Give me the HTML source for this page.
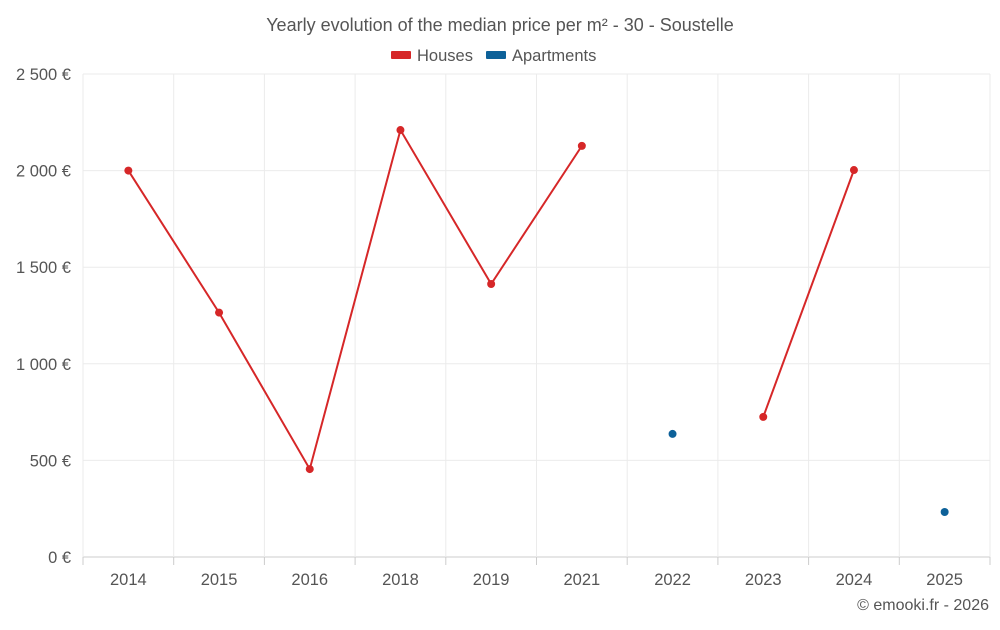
<!DOCTYPE html>
<html><head><meta charset="utf-8"><style>
body{margin:0;background:#fff;font-family:"Liberation Sans",sans-serif;}
svg text{font-family:"Liberation Sans",sans-serif;}
</style></head><body>
<svg id="chart" width="1000" height="625" xmlns="http://www.w3.org/2000/svg">
<text x="500" y="31" text-anchor="middle" font-size="18" fill="#555">Yearly evolution of the median price per m² - 30 - Soustelle</text>
<g><rect x="391" y="51" width="20" height="8" rx="1" fill="#d62728"/><text x="417" y="61" font-size="16.5" fill="#555">Houses</text></g>
<g><rect x="486" y="51" width="20" height="8" rx="1" fill="#0d6199"/><text x="512" y="61" font-size="16.5" fill="#555">Apartments</text></g>
<g id="grid"></g><g id="axes"></g><g id="series"></g>
<text x="989" y="610" text-anchor="end" font-size="16" fill="#555">© emooki.fr - 2026</text>
</svg>
<script>
const categories=["2014","2015","2016","2018","2019","2021","2022","2023","2024","2025"];
const houses=[2000,1265,455,2210,1413,2128,null,725,2003,null];
const apartments=[null,null,null,null,null,null,637,null,null,233];
const yTicks=[0,500,1000,1500,2000,2500];
const tickLabels=["0 €","500 €","1 000 €","1 500 €","2 000 €","2 500 €"];
const L=83,R=990,T=74,B=557,yMax=2500;
const bw=(R-L)/categories.length;
const x=i=>L+bw*(i+0.5);
const y=v=>B-(v/yMax)*(B-T);
const NS="http://www.w3.org/2000/svg";
function mk(tag,attrs,parent,txt){const e=document.createElementNS(NS,tag);for(const k in attrs)e.setAttribute(k,attrs[k]);if(txt!==undefined)e.textContent=txt;parent.appendChild(e);return e;}
const grid=document.getElementById('grid'),axes=document.getElementById('axes'),ser=document.getElementById('series');
yTicks.forEach((t,i)=>{
 const l=mk('line',{x1:L,x2:R,y1:y(t),y2:y(t),stroke:i==0?'#ccc':'#ebebeb','stroke-width':1},grid);
 
 
 const tx=mk('text',{x:71,y:y(t)+6,'text-anchor':'end','font-size':16.5,fill:'#555'},axes,tickLabels[i]);
 
 
});
for(let i=0;i<=categories.length;i++){
 const gx=L+bw*i;
 const l=mk('line',{x1:gx,x2:gx,y1:T,y2:B,stroke:'#ebebeb','stroke-width':1},grid);
 
 
 const tk=mk('line',{x1:gx,x2:gx,y1:B,y2:B+8,stroke:'#ccc'},grid);
 
 
}
categories.forEach((c,i)=>{
 const tx=mk('text',{x:x(i),y:585,'text-anchor':'middle','font-size':16.5,fill:'#555'},axes,c);
 
 
});
function draw(data,color,name){
 let seg=[];
 const flush=()=>{if(seg.length>1){const p=mk('polyline',{points:seg.join(' '),fill:'none',stroke:color,'stroke-width':2},ser);
 
 }seg=[];};
 data.forEach((v,i)=>{if(v==null){flush();return;}seg.push(x(i)+','+y(v));});flush();
 data.forEach((v,i)=>{if(v==null)return;const c=mk('circle',{cx:x(i),cy:y(v),r:4,fill:color},ser);
 
 });
}
draw(houses,'#d62728','houses');
draw(apartments,'#0d6199','apartments');
</script>
</body></html>
